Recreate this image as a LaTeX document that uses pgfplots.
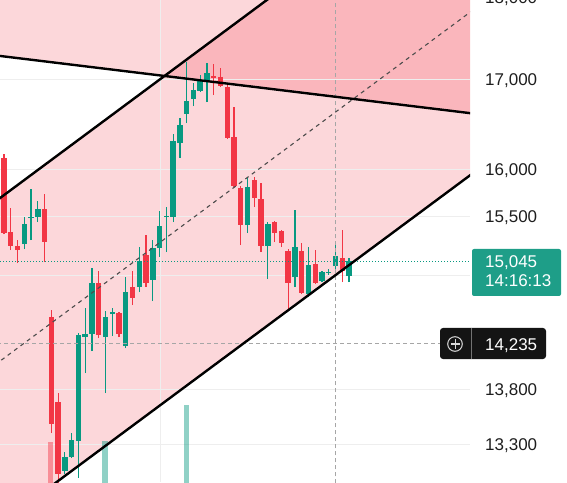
\documentclass[border=0pt]{standalone}
\usepackage{pgfplots}
\pgfplotsset{compat=1.18}
\usepackage{pgfplotstable}
\usepackage{fontspec}
\setmainfont{Liberation Sans}
\definecolor{cgreen}{HTML}{089981}
\definecolor{cred}{HTML}{F23645}
\definecolor{boxgreen}{HTML}{1E9E88}
\definecolor{txt}{HTML}{1E1E1E}
\definecolor{gridc}{RGB}{238,238,238}

% candle index, open, high, low, close
\pgfplotstableread{
i o h l c
0 16123 16166 15321 15331
1 15341 15590 15157 15198
2 15198 15259 15025 15157
3 15218 15496 15167 15424
4 15486 15790 15259 15501
5 15496 15663 15444 15579
6 15579 15737 15035 15239
7 14490 14559 13405 13487
8 13687 13770 12960 13042
9 13068 13235 13042 13191
10 13191 13405 13182 13342
11 13333 14335 13007 14316
12 14297 14579 13956 14326
13 14326 14975 14164 14825
14 14825 14945 14287 14316
15 14297 14549 13770 14490
16 14520 14579 14306 14539
17 14530 14539 14297 14326
18 14211 14885 14192 14735
19 14785 14945 14608 14677
20 14785 15188 14735 15045
21 15106 15311 14785 14825
22 14855 15259 14647 15177
23 15177 15559 15086 15403
24 15496 15600 15137 15506
25 15496 16384 15444 16307
26 16285 16561 16123 16484
27 16606 17195 16506 16751
28 16773 16955 16695 16875
29 16864 17046 16852 16989
30 16989 17184 16740 17069
31 17034 17172 16818 17017
32 17023 17126 16909 16921
33 16909 16932 16330 16340
34 16351 16684 15812 15822
35 15800 15822 15208 15413
36 15413 15918 15331 15811
37 15886 15918 15600 15695
38 15684 15854 15137 15198
39 15198 15444 14865 15424
40 15444 15454 15239 15331
41 15352 15362 15188 15228
42 15147 15167 14559 14825
43 14885 15569 14785 15188
44 15147 15228 14716 14726
45 14716 15188 14686 15005
46 15015 15157 14815 14825
47 14845 14945 14835 14935
48 14930 14965 14905 14940
49 14995 15208 14955 15096
50 15075 15362 14835 14945
51 14895 15075 14835 15045
}\ohlc

\begin{document}
\begin{tikzpicture}
\begin{axis}[
  set layers,
  clip mode=individual,
  at={(0pt,0pt)}, anchor=south west,
  scale only axis, width=470pt, height=482pt,
  xmin=-0.591, xmax=68.88,
  ymode=log, ymin=12972, ymax=17926,
  axis line style={draw=none},
  major tick length=0pt,
  xtick={23.06}, xticklabels={},
  xmajorgrids, ymajorgrids,
  grid style={gridc, line width=0.8pt},
  ytick={13300,13800,15500,16000,17000},
  yticklabels={{13,300},{13,800},{15,500},{16,000},{17,000}},
  extra y ticks={14900}, extra y tick labels={},
  extra y tick style={grid=major},
  yticklabel pos=right,
  yticklabel style={anchor=west, inner sep=0pt, xshift=15pt, text height=12.2pt, text depth=0pt, font=\fontsize{17}{20}\selectfont, color=txt},
]
% shaded zones
\addplot[on layer=axis background, draw=none, fill=cred, fill opacity=0.2] coordinates {(-8,17335) (77,16541) (77,30000) (-8,30000)} -- cycle;
\addplot[on layer=axis background, draw=none, fill=cred, fill opacity=0.2] coordinates {(-8,15308) (77,20384) (77,16378) (-8,12300)} -- cycle;
% volume bars
\addplot[cred, opacity=0.45, line width=5.6pt] coordinates {(6.9,12900) (6.9,13324)};
\addplot[cgreen, opacity=0.45, line width=5.6pt] coordinates {(14.9,12900) (14.9,13333)};
\addplot[cgreen, opacity=0.45, line width=5.6pt] coordinates {(27,12900) (27,13660)};
% candles
\pgfplotsforeachungrouped \rowi in {0,...,51}{%
  \pgfplotstablegetelem{\rowi}{i}\of\ohlc\let\cI\pgfplotsretval
  \pgfplotstablegetelem{\rowi}{o}\of\ohlc\let\cO\pgfplotsretval
  \pgfplotstablegetelem{\rowi}{h}\of\ohlc\let\cH\pgfplotsretval
  \pgfplotstablegetelem{\rowi}{l}\of\ohlc\let\cL\pgfplotsretval
  \pgfplotstablegetelem{\rowi}{c}\of\ohlc\let\cC\pgfplotsretval
  \ifnum\cC<\cO\relax\def\col{cred}\else\def\col{cgreen}\fi
  \edef\temp{%
    \noexpand\addplot[\col, line width=1.2pt, forget plot] coordinates {(\cI,\cL) (\cI,\cH)};
    \noexpand\addplot[\col, line width=5.4pt, line cap=butt, forget plot] coordinates {(\cI,\cO) (\cI,\cC)};
  }\temp
}
% last price and crosshair
\addplot[cgreen, line width=1pt, dash pattern=on 1pt off 2pt] coordinates {(-1,15045) (69,15045)};
\addplot[black!35, line width=1pt, dash pattern=on 4pt off 3pt] coordinates {(-1,14235) (69,14235)};
\addplot[black!35, line width=1pt, dash pattern=on 4pt off 3pt] coordinates {(49,12900) (49,18000)};
% channel lines
\addplot[black!70, line width=1.1pt, dash pattern=on 4pt off 4pt] coordinates {(-8,13722) (77,18272)};
\addplot[black, line width=2.4pt] coordinates {(-8,15308) (77,20384)};
\addplot[black, line width=2.4pt] coordinates {(-8,12300) (77,16378)};
\addplot[black, line width=2.4pt] coordinates {(-8,17335) (77,16541)};
\end{axis}
% price labels
\node[anchor=west, inner sep=0pt, text height=12.2pt, text depth=0pt, font=\fontsize{17}{20}\selectfont, color=txt] at (485pt,485pt) {18,000};
\fill[boxgreen, rounded corners=2pt] (472pt,186pt) rectangle (561pt,233pt);
\node[anchor=west, inner sep=0pt, text height=12.2pt, text depth=0pt, font=\fontsize{17}{20}\selectfont, color=white] at (485pt,221pt) {15,045};
\node[anchor=west, inner sep=0pt, text height=12.2pt, text depth=0pt, font=\fontsize{17}{20}\selectfont, color=white] at (485pt,202pt) {14:16:13};
\fill[black!92, rounded corners=3pt] (440pt,123pt) rectangle (546pt,154pt);
\draw[white!85!black, line width=1pt] (455pt,138pt) circle (7.3pt);
\draw[white!85!black, line width=1pt] (450.5pt,138pt) -- (459.5pt,138pt) (455pt,133.5pt) -- (455pt,142.5pt);
\draw[black!55, line width=0.8pt] (471pt,123pt) -- (471pt,154pt);
\node[anchor=west, inner sep=0pt, text height=12.2pt, text depth=0pt, font=\fontsize{17}{20}\selectfont, color=white] at (485pt,138pt) {14,235};
\pgfresetboundingbox
\useasboundingbox (0pt,0pt) rectangle (567pt,482pt);
\end{tikzpicture}
\end{document}
